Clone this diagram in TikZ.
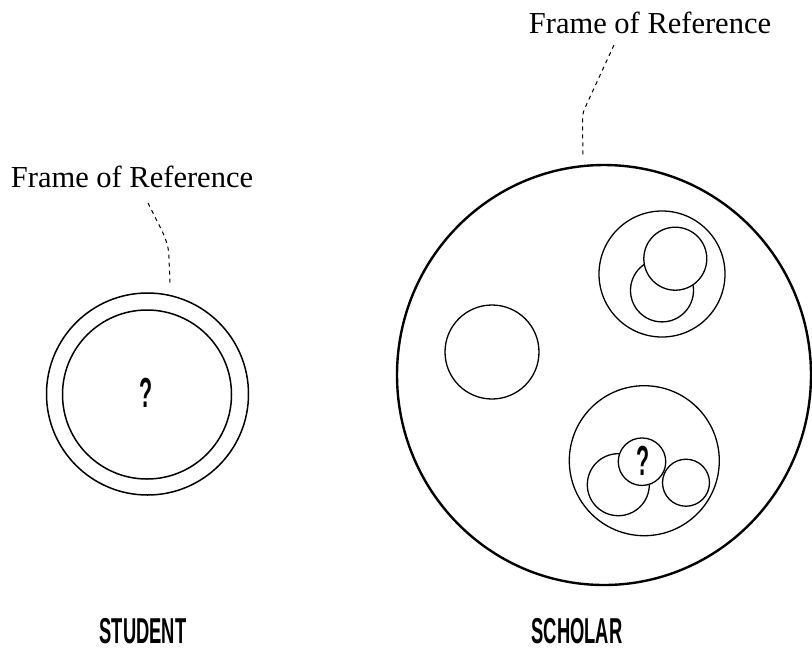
\documentclass[tikz,border=0pt]{standalone}
\usepackage{fontspec}
\setmainfont{Liberation Serif}
\newfontfamily\condfont{Liberation Sans}[FakeStretch=0.51]
\usetikzlibrary{shapes.geometric}
\tikzset{
  ring/.style={circle, draw, line width=1.3pt, inner sep=0pt, minimum size=#1},
  ringw/.style={ring=#1, fill=white},
  leader/.style={line width=1pt, dash pattern=on 4pt off 4pt},
  frametext/.style={anchor=base, inner sep=0pt, font=\fontsize{30.5}{34}\selectfont},
  roletext/.style={anchor=base, inner sep=0pt, font=\condfont\bfseries\fontsize{36}{40}\selectfont},
  qmark/.style={font=\condfont\bfseries\fontsize{42}{44}\selectfont, inner sep=0pt}
}
\begin{document}
\begin{tikzpicture}[x=1pt, y=-1pt]
\useasboundingbox (0,0) rectangle (812,649);

% ---------- STUDENT ----------
\node[ring=202pt, line width=1.5pt] (souter) at (147.5,394) {};
\node[ring=169pt, line width=1.5pt] (sinner) at (147,394.5) {};
\node[qmark] (sq) at (146.5,393) {?};
\node[frametext] (sframe) at (132,187) {Frame of Reference};
\coordinate (sl0) at (148,203);
\coordinate (sl1) at (170,285);
\draw[leader] (sl0) .. controls (160,228) and (169,240) .. (169,258) -- (sl1);
\node[roletext] (student) at (143,643) {STUDENT};

% ---------- SCHOLAR ----------
\node[ellipse, draw, line width=2.4pt, inner sep=0pt, minimum width=414pt, minimum height=420pt] (big) at (604,375) {};
\node[frametext] (cframe) at (650,33) {Frame of Reference};
\coordinate (cl0) at (614,45);
\coordinate (cl1) at (583,157);
\draw[leader] (cl0) -- (584,110) to[out=-105,in=90] (582.5,122) -- (cl1);

% plain circle
\node[ring=94pt] (plain) at (492,352) {};

% top-right group
\node[ring=126pt] (tr) at (662,274) {};
\node[ring=63pt] (trlow) at (662,290.4) {};
\node[ringw=63pt] (trup) at (675.3,258.7) {};

% bottom group
\node[ring=150pt] (br) at (644.3,460.7) {};
\node[ring=62pt] (brleft) at (618.3,484.7) {};
\node[ring=47pt] (brright) at (686,482.7) {};
\node[ringw=47.5pt] (brq) at (642,461.7) {};
\node[qmark] (cq) at (643,460.5) {?};

\node[roletext] (scholar) at (577,643) {SCHOLAR};
\end{tikzpicture}
\end{document}
